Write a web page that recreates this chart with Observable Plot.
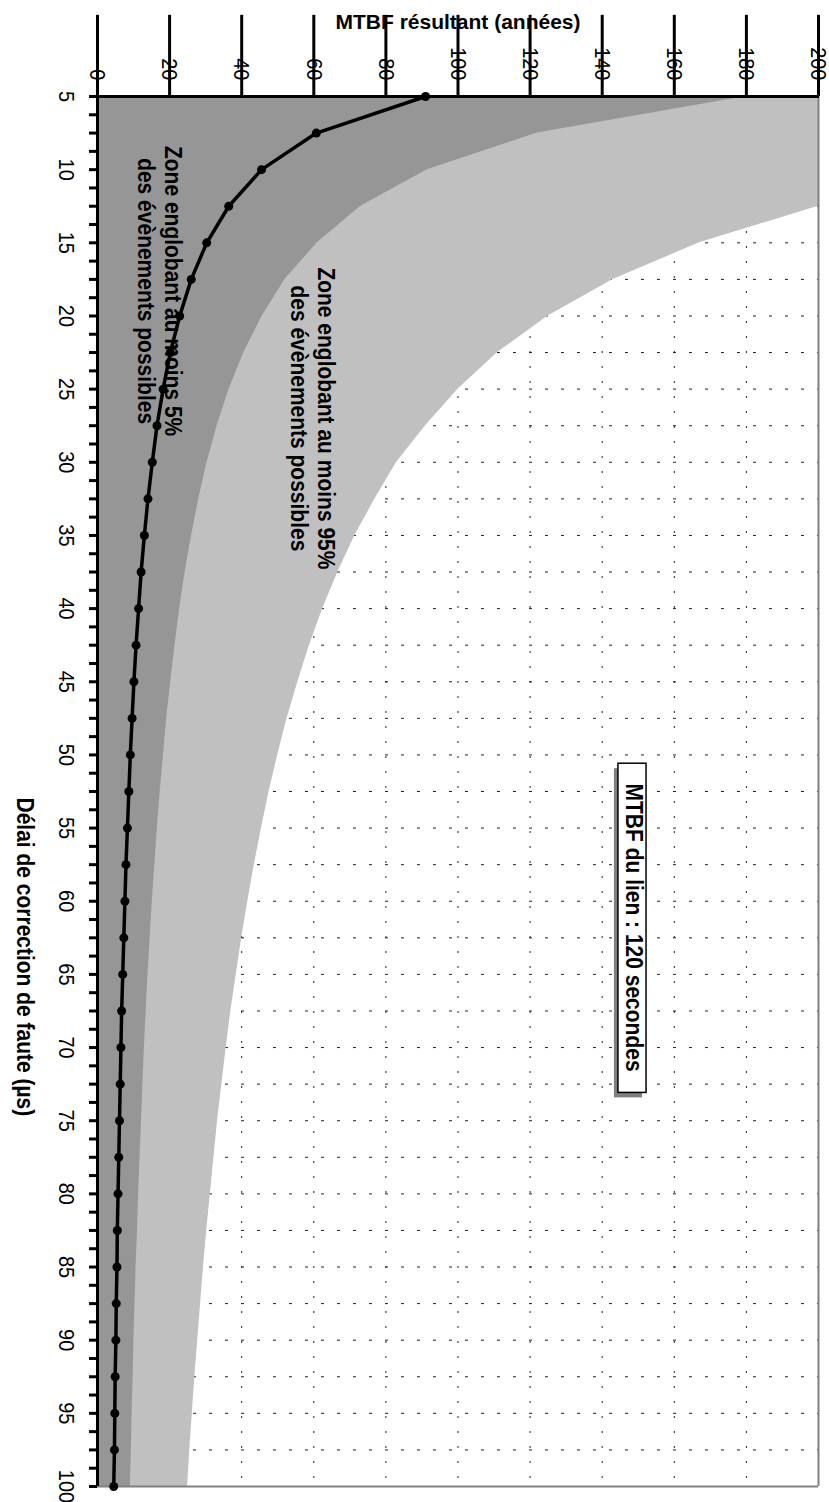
<!DOCTYPE html>
<html>
<head>
<meta charset="utf-8">
<script src="https://cdn.jsdelivr.net/npm/d3@7"></script>
<script src="https://cdn.jsdelivr.net/npm/@observablehq/plot@0.6"></script>
<style>
  html, body { margin: 0; padding: 0; background: #fff; }
  #chart { width: 829px; height: 1502px; }
</style>
</head>
<body>
<div id="chart"></div>
<script>
// Délai de correction de faute (µs)
const delais = [5, 7.5, 10, 12.5, 15, 17.5, 20, 22.5, 25, 27.5, 30, 32.5, 35, 37.5, 40, 42.5, 45, 47.5, 50,
  52.5, 55, 57.5, 60, 62.5, 65, 67.5, 70, 72.5, 75, 77.5, 80, 82.5, 85, 87.5, 90, 92.5, 95, 97.5, 100];
// MTBF résultant (années) — black curve
const mtbf = [91.0, 60.7, 45.5, 36.4, 30.3, 26.0, 22.8, 20.2, 18.2, 16.5, 15.2, 14.0, 13.0, 12.1, 11.4, 10.7,
  10.1, 9.6, 9.1, 8.7, 8.3, 7.9, 7.6, 7.3, 7.0, 6.7, 6.5, 6.3, 6.1, 5.9, 5.7, 5.5, 5.4, 5.2, 5.1, 4.9, 4.8, 4.7, 4.5];
// Upper bound of the zone "au moins 5%" (dark grey)
const zone5 = [180, 122, 91.5, 73, 61, 52, 45.7, 40.6, 36.5, 33.2, 30.4, 28.1, 26.1, 24.3, 22.8, 21.5, 20.3,
  19.2, 18.3, 17.4, 16.6, 15.9, 15.2, 14.6, 14.0, 13.5, 13.0, 12.6, 12.2, 11.8, 11.4, 11.1, 10.7, 10.4, 10.1,
  9.9, 9.6, 9.4, 9.1];
// Upper bound of the zone "au moins 95%" (light grey)
const zone95 = [500, 333, 250, 200, 167, 143, 125, 111, 100, 91, 83, 77, 71.4, 66.7, 62.5, 58.8, 55.6, 52.6, 50,
  47.6, 45.5, 43.5, 41.7, 40, 38.5, 37, 35.7, 34.5, 33.3, 32.3, 31.3, 30.3, 29.4, 28.6, 27.8, 27, 26.3, 25.6, 25];

// Axis ticks / labels
const mtbfTicks = [0, 20, 40, 60, 80, 100, 120, 140, 160, 180, 200];
const mtbfGrid = [20, 40, 60, 80, 100, 120, 140, 160, 180];
const delaiLabels = [5, 10, 15, 20, 25, 30, 35, 40, 45, 50, 55, 60, 65, 70, 75, 80, 85, 90, 95, 100];
const delaiTicks = d3.range(0, 77).map(i => 5 + i * 1.25);
const delaiGrid = d3.range(1, 38).map(i => 5 + i * 2.5);

// Annotations (data coordinates)
const notes = [
  {x: 17.3, y: 18.3, text: "Zone englobant au moins 5%\ndes évènements possibles"},
  {x: 59.8, y: 27.0, text: "Zone englobant au moins 95%\ndes évènements possibles"}
];
const boxNote = [{x: 148.6, y: 61.8, text: "MTBF du lien : 120 secondes"}];
const boxRect = [{x1: 144.5, x2: 152.3, y1: 50.6, y2: 73.1}];

const rows = delais.map((d, i) => ({delai: d, mtbf: mtbf[i], z5: zone5[i], z95: zone95[i]}));

const FONT = "'Liberation Sans', Arial, Helvetica, sans-serif";

const chart = Plot.plot({
  width: 829,
  height: 1502,
  marginLeft: 97,
  marginRight: 11,
  marginTop: 96,
  marginBottom: 16,
  style: {fontFamily: FONT, background: "#fff", color: "#000", overflow: "visible"},
  x: {domain: [0, 200], axis: null},
  y: {domain: [5, 100], reverse: true, axis: null},
  marks: [
    // grid
    Plot.ruleX(mtbfGrid, {x: d => d, stroke: "#222", strokeWidth: 1, strokeDasharray: "2,13"}),
    Plot.ruleY(delaiGrid, {y: d => d, stroke: "#222", strokeWidth: 1, strokeDasharray: "3,13"}),
    // zones
    Plot.areaX(rows, {y: "delai", x1: 0, x2: "z95", fill: "#c0c0c0", clip: true}),
    Plot.areaX(rows, {y: "delai", x1: 0, x2: "z5", fill: "#969696", clip: true}),
    // plot-area border (right / bottom)
    Plot.ruleX([200], {stroke: "#808080", strokeWidth: 2}),
    Plot.ruleY([100], {stroke: "#808080", strokeWidth: 2}),
    // annotations
    Plot.text(notes, {x: "x", y: "y", text: "text", rotate: 90, fontSize: 21, fontWeight: "bold",
      lineHeight: 1.14, textAnchor: "middle", lineAnchor: "middle", fill: "#000"}),
    Plot.rect(boxRect, {x1: "x1", x2: "x2", y1: "y1", y2: "y2", fill: "#808080", dx: -4, dy: 5}),
    Plot.rect(boxRect, {x1: "x1", x2: "x2", y1: "y1", y2: "y2", fill: "#fff", stroke: "#000", strokeWidth: 1.5}),
    Plot.text(boxNote, {x: "x", y: "y", text: "text", rotate: 90, fontSize: 21, fontWeight: "bold",
      textAnchor: "middle", lineAnchor: "middle", fill: "#000"}),
    // curve
    Plot.lineX(rows, {x: "mtbf", y: "delai", stroke: "#000", strokeWidth: 3.5}),
    Plot.dot(rows, {x: "mtbf", y: "delai", r: 4.5, fill: "#000", stroke: "none"}),
    // axes lines
    Plot.ruleX([0], {stroke: "#000", strokeWidth: 3}),
    Plot.ruleY([5], {stroke: "#000", strokeWidth: 3, insetRight: -1}),
    // ticks
    Plot.ruleY(delaiTicks, {y: d => d, x2: 0, insetLeft: -8, stroke: "#000", strokeWidth: 3}),
    Plot.ruleX(mtbfTicks, {x: d => d, y2: 5, insetTop: -8, stroke: "#000", strokeWidth: 3}),
    // tick labels
    Plot.text(mtbfTicks, {x: d => d, frameAnchor: "top", dy: -16, rotate: 90, text: d => String(d),
      textAnchor: "end", lineAnchor: "middle", fontSize: 20, fill: "#000"}),
    Plot.text(delaiLabels, {y: d => d, frameAnchor: "left", dx: -31, rotate: 90, text: d => String(d),
      textAnchor: "middle", lineAnchor: "middle", fontSize: 20, fill: "#000"}),
    // axis titles
    Plot.text(["MTBF résultant (années)"], {frameAnchor: "top", dy: -74, text: d => d,
      fontSize: 21, fontWeight: "bold", lineAnchor: "middle", fill: "#000"}),
    Plot.text(["Délai de correction de faute (µs)"], {frameAnchor: "left", dx: -73, dy: 6, text: d => d,
      rotate: 90, fontSize: 21, fontWeight: "bold", lineAnchor: "middle", fill: "#000"})
  ]
});

// Rotated labels in the original are drawn slightly taller across their baseline
chart.querySelectorAll("text").forEach(t => {
  const tr = t.getAttribute("transform");
  if (tr && /rotate\(90\)/.test(tr)) t.setAttribute("transform", tr + " scale(1,1.13)");
});

document.getElementById("chart").appendChild(chart);
</script>
</body>
</html>
